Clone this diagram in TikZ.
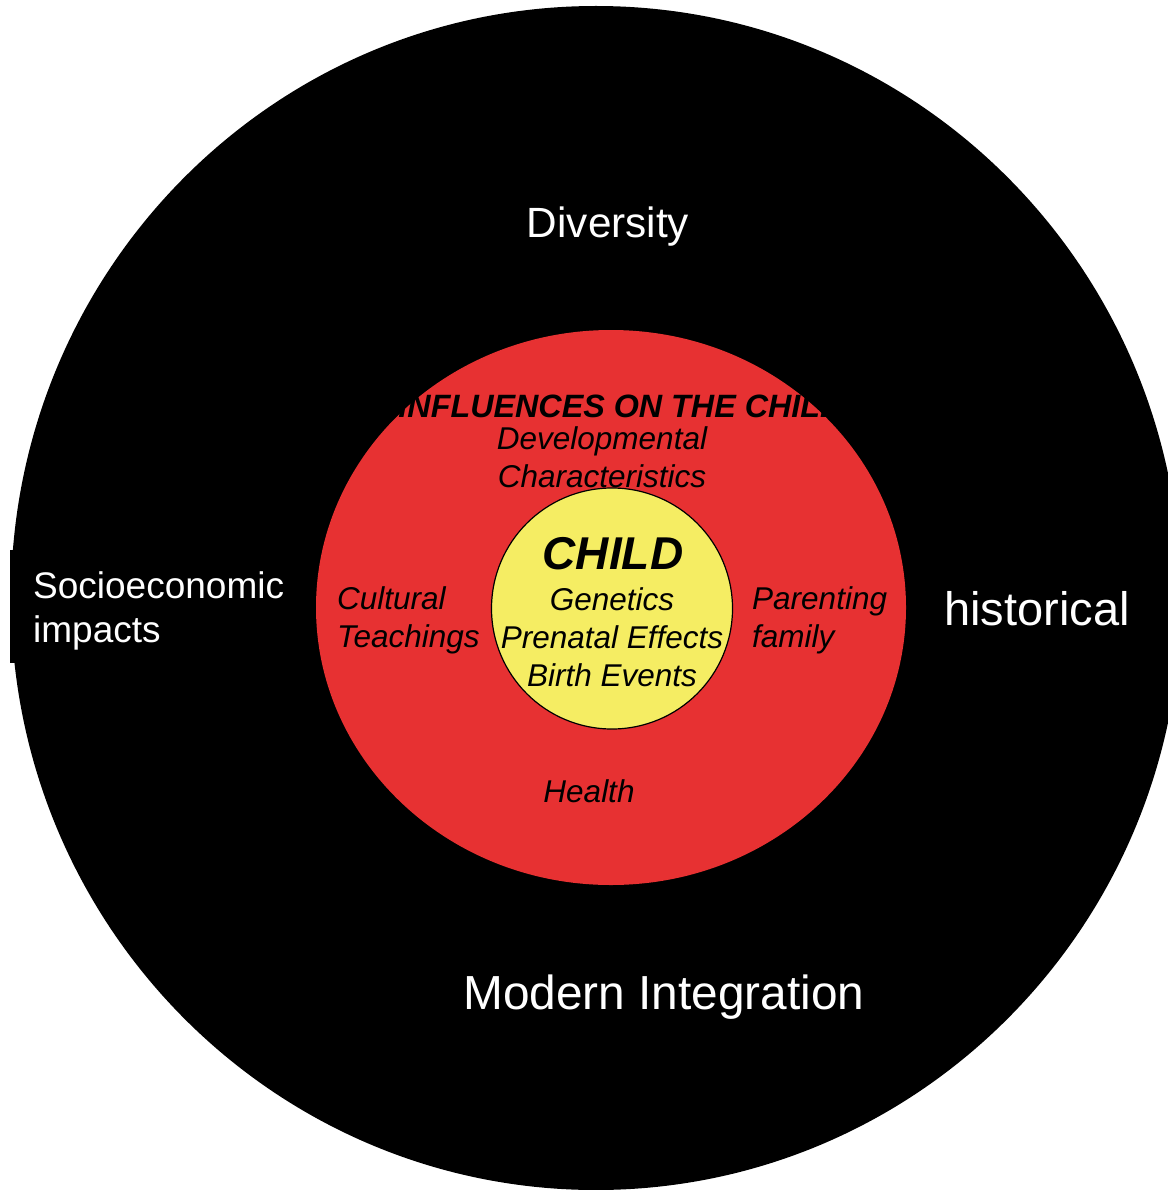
\documentclass[tikz,border=0pt]{standalone}
\usepackage{fontspec}
\setmainfont{Liberation Sans}
\usetikzlibrary{shapes.geometric}
\definecolor{ringred}{HTML}{E73132}
\definecolor{coreyellow}{HTML}{F5ED63}

\begin{document}
\begin{tikzpicture}[x=1pt, y=-1pt,
  ring/.style={ellipse, inner sep=0pt, draw=none},
  outer/.style={text=white, inner sep=0pt},
  inner/.style={font=\fontsize{31.5}{38}\selectfont\itshape, inner sep=0pt}]
  \useasboundingbox (0,0) rectangle (1167,1190);
  \fill (10,550) rectangle (200,663);
  \node (world) [ring, fill=black, minimum width=1170pt, minimum height=1184pt] at (596,598) {};
  \node (influence) [ring, fill=ringred, minimum width=590pt, minimum height=555pt] at (611,607.5) {};
  \node (child) [circle, draw=black, line width=1.2pt, fill=coreyellow, inner sep=0pt, minimum size=241pt] at (612,608.5) {};
  % outer ring
  \node (diversity) [outer, font=\fontsize{42.3}{50}\selectfont, anchor=base] at (608,237) {Diversity};
  \node (socio) [outer, font=\fontsize{37}{44}\selectfont, anchor=base west, align=left] at (33,642) {Socioeconomic\\impacts};
  \node (historical) [outer, font=\fontsize{47}{56}\selectfont, anchor=base west] at (944,625) {historical};
  \node (modern) [outer, font=\fontsize{47.8}{56}\selectfont, anchor=base west] at (463,1009) {Modern Integration};
  % red ring
  \node (title) [font=\fontsize{32.3}{38}\selectfont\bfseries\itshape, inner sep=0pt, anchor=base] at (621,417) {INFLUENCES ON THE CHILD};
  \node (devel) [inner, align=center, anchor=base] at (602,487) {Developmental\\Characteristics};
  \node (cultural) [inner, align=left, anchor=base west] at (337,647) {Cultural\\Teachings};
  \node (parenting) [inner, align=left, anchor=base west] at (752,647) {Parenting\\family};
  \node (health) [inner, anchor=base] at (589,802) {Health};
  % core
  \node (name) [font=\fontsize{46}{55}\selectfont\bfseries\itshape, inner sep=0pt, anchor=base] at (613,569) {CHILD};
  \node (factors) [inner, align=center, anchor=base] at (612,686) {Genetics\\Prenatal Effects\\Birth Events};
\end{tikzpicture}
\end{document}
